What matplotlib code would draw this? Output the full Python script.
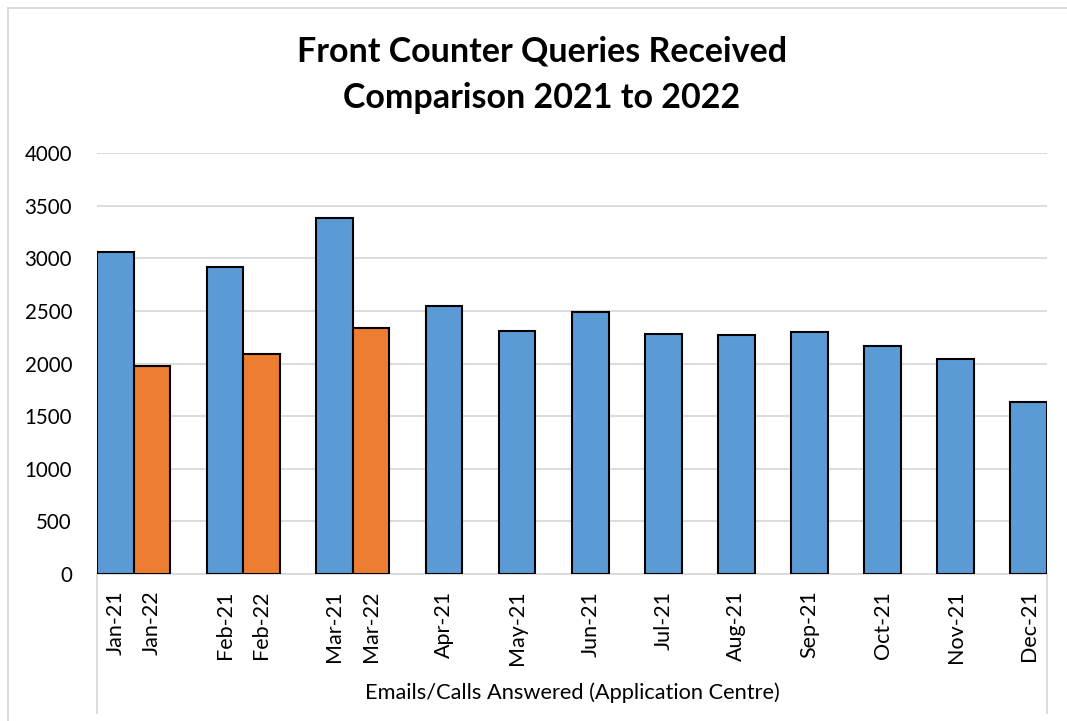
import matplotlib
matplotlib.use("Agg")
import matplotlib.pyplot as plt
from matplotlib.lines import Line2D

plt.rcParams['font.family'] = ['Lato', 'DejaVu Sans']

# ---- data ----
labels = ["Jan-21", "Jan-22", "Feb-21", "Feb-22", "Mar-21", "Mar-22",
          "Apr-21", "May-21", "Jun-21", "Jul-21", "Aug-21", "Sep-21",
          "Oct-21", "Nov-21", "Dec-21"]
values = [3055, 1975, 2915, 2090, 3380, 2335,
          2550, 2305, 2490, 2280, 2270, 2295,
          2165, 2045, 1635]
series = ["2021", "2022", "2021", "2022", "2021", "2022",
          "2021", "2021", "2021", "2021", "2021", "2021",
          "2021", "2021", "2021"]
group_label = "Emails/Calls Answered (Application Centre)"
title = "Front Counter Queries Received\nComparison 2021 to 2022"
yticks = [0, 500, 1000, 1500, 2000, 2500, 3000, 3500, 4000]

colors = {"2021": "#5B9BD5", "2022": "#ED7D31"}

# positions: a 2022 bar sits right next to its 2021 bar; otherwise a one-bar gap
positions = []
p = 0.5
for i, s in enumerate(series):
    if i > 0:
        p += 1 if s == "2022" else 2
    positions.append(p)

W, H = 1067, 721
fig = plt.figure(figsize=(W / 100, H / 100), dpi=100)
ax = fig.add_axes([97 / W, 1 - 574 / H, (1047 - 97) / W, (574 - 153) / H])

ax.bar(positions, values, width=1.0, color=[colors[s] for s in series],
       edgecolor="black", linewidth=1.5, zorder=3)

ax.set_xlim(0, positions[-1] + 0.5)
ax.set_ylim(0, 4000)
ax.set_yticks(yticks)
ax.set_yticklabels([str(v) for v in yticks], fontsize=14.8)
ax.tick_params(axis='y', length=0, pad=18)
ax.grid(axis='y', color='#D9D9D9', linewidth=1.3, zorder=0)
ax.set_axisbelow(True)
for s in ['left', 'right', 'top']:
    ax.spines[s].set_visible(False)
ax.spines['bottom'].set_color('#D9D9D9')
ax.spines['bottom'].set_linewidth(1.3)

ax.set_xticks(positions)
ax.set_xticklabels(labels, rotation=90, fontsize=15.5, va='top', ha='center')
ax.tick_params(axis='x', length=0, pad=12)

# multi-level category box lines
x0 = ax.get_xlim()[0]
x1 = ax.get_xlim()[1]
for xv in (x0, x1):
    ax.add_line(Line2D([xv, xv], [0, -(713 - 574) / (574 - 153) * 4000],
                       color='#D9D9D9', linewidth=1.3, clip_on=False))

fig.text((97 + 1047) / 2 / W, 1 - 693 / H, group_label, fontsize=15.7,
         ha='center', va='center')

fig.text(542 / W, 1 - 75 / H, title, fontsize=24.5, fontweight='bold',
         ha='center', va='center', linespacing=1.55)

# outer chart border (partially cropped)
fig.add_artist(Line2D([8 / W, 1], [1 - 7.5 / H, 1 - 7.5 / H],
                      color='#D9D9D9', linewidth=1.3))
fig.add_artist(Line2D([8 / W, 8 / W], [1 - 7.5 / H, 0],
                      color='#D9D9D9', linewidth=1.3))

fig.savefig("out.png", dpi=100)
